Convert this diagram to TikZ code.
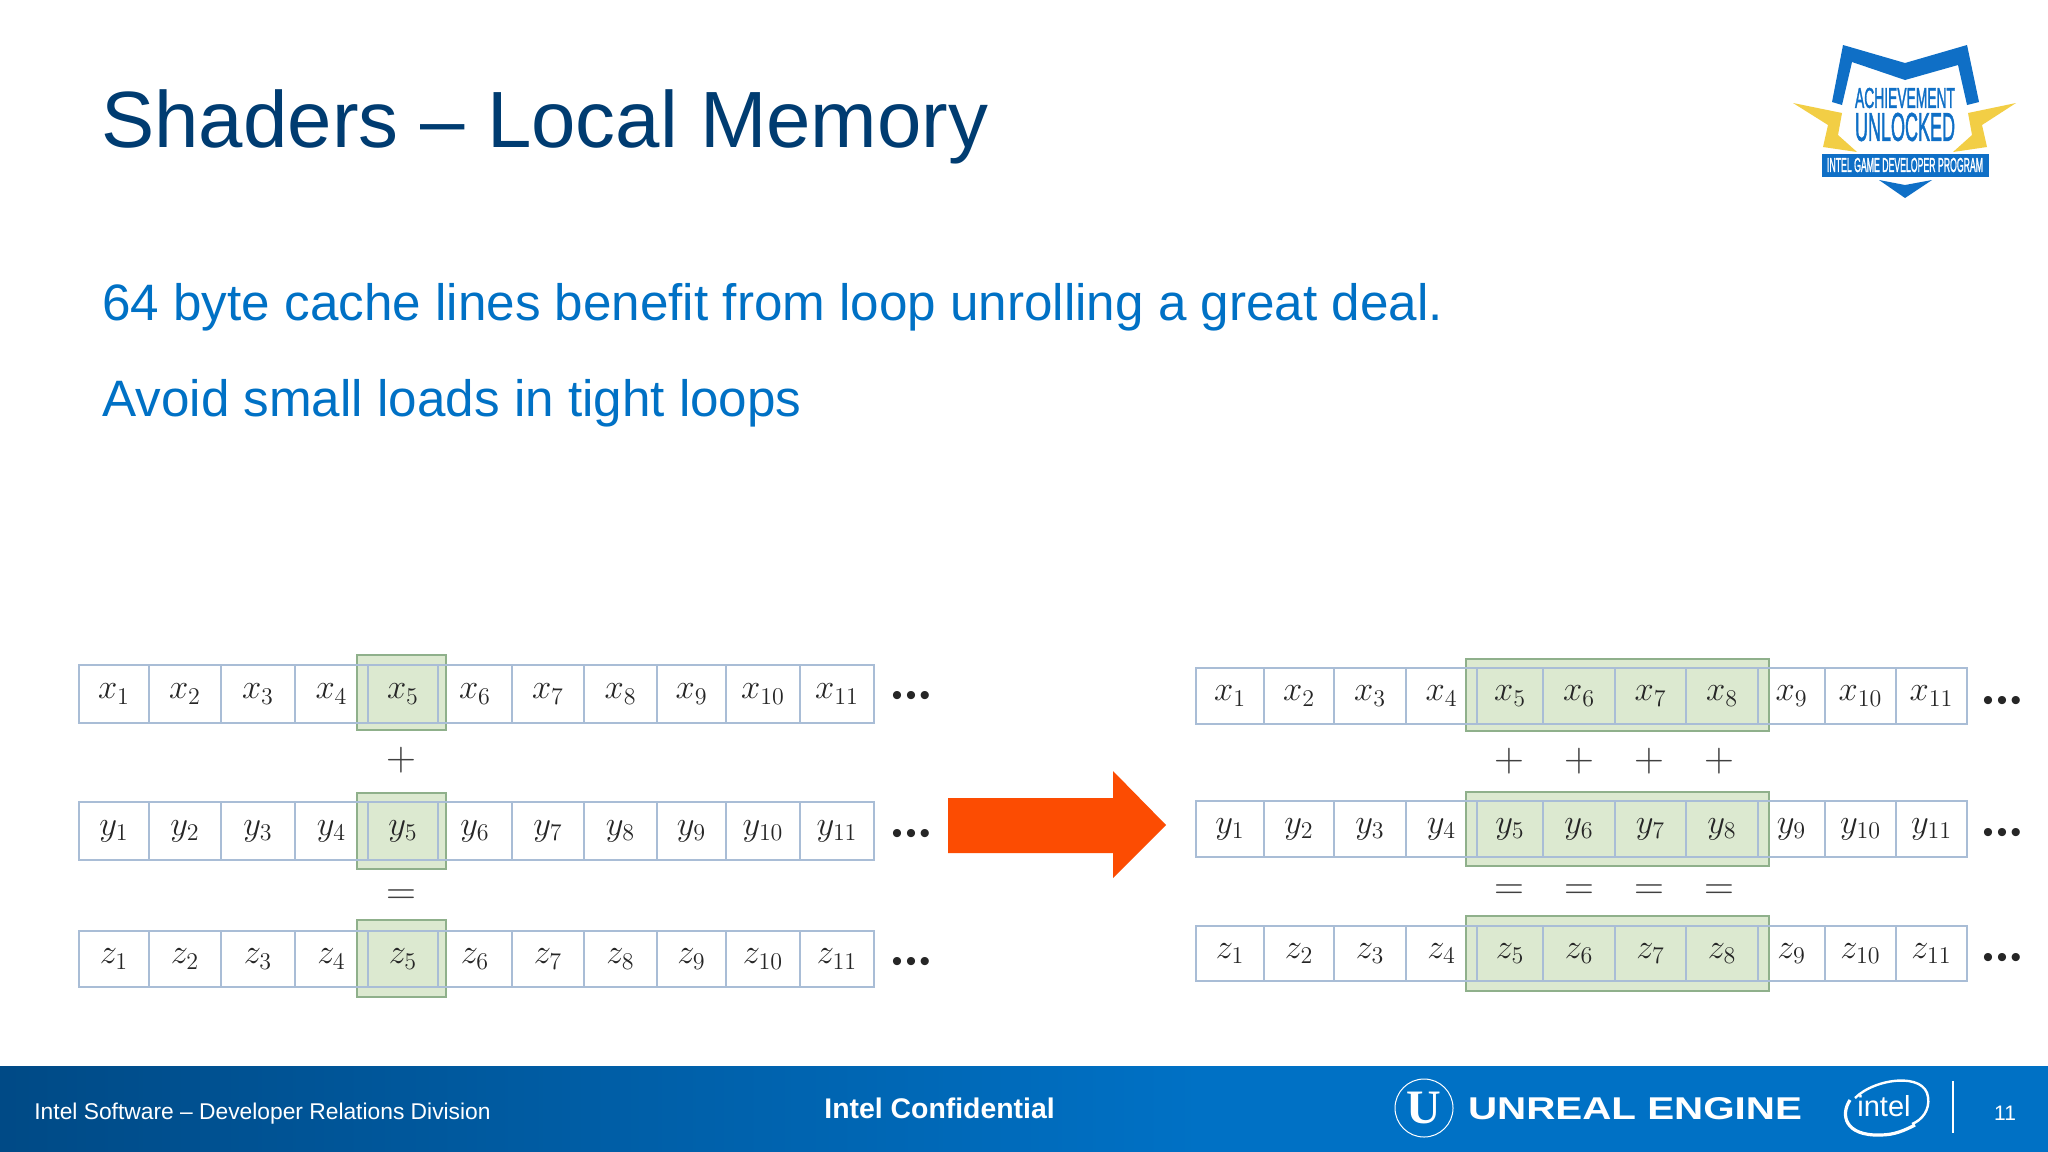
\documentclass[tikz,border=0pt]{standalone}
\usepackage{graphicx}
\usepackage{amsmath}
\usepackage{fontspec}
\setmainfont{Liberation Sans}
\newfontfamily\badgefont[FakeBold=2]{Liberation Sans}
\newfontfamily\uefont{Liberation Serif}
\usetikzlibrary{positioning}
\definecolor{inteldark}{HTML}{003C71}
\definecolor{intelblue}{HTML}{0071C5}
\definecolor{footdark}{HTML}{004A86}
\definecolor{cellline}{HTML}{A9BDD6}
\definecolor{hotorange}{HTML}{FC4C02}
\definecolor{badgeblue}{HTML}{0F6FC6}
\definecolor{badgeyellow}{HTML}{F2CE45}
\definecolor{greenline}{HTML}{8FB08B}
\definecolor{greenfill}{HTML}{DCE9D0}

\begin{document}
\begin{tikzpicture}[
  x=0.5pt, y=-0.5pt,
  cellbox/.style={
    draw=cellline, line width=1pt, inner sep=0pt, outer sep=0pt,
    text=black!85, font=\fontsize{18}{20}\selectfont
  },
  greenbox/.style={
    draw=greenline, fill=greenfill, line width=1.2pt,
    inner sep=0pt, outer sep=0pt
  },
  opmark/.style={
    inner sep=0pt, text=black!75, font=\fontsize{19.5}{20}\selectfont
  },
  dotsmark/.style={
    anchor=base, inner sep=0pt, text=black!85,
    font=\fontsize{15}{15}\selectfont
  },
  bodyline/.style={
    anchor=base west, inner sep=0pt, text=intelblue,
    font=\fontsize{25.6}{30}\selectfont
  },
  foottext/.style={
    anchor=base west, inner sep=0pt, text=white
  },
  logotext/.style={
    inner sep=0pt, text=white
  },
  badgetext/.style={
    inner sep=0pt, text=badgeblue, font=\badgefont
  }
]
\useasboundingbox (0,0) rectangle (2048,1151.8);
\fill[white] (0,0) rectangle (2048,1154);

% Title and body
\node[anchor=base west, inner sep=0pt, text=inteldark, font=\fontsize{39.9}{44}\selectfont] (title) at (101,147) {Shaders -- Local Memory};
\node[bodyline] (line1) at (102,320) {64 byte cache lines benefit from loop unrolling a great deal.};
\node[bodyline] (line2) at (102,416) {Avoid small loads in tight loops};

% Badge
\fill[badgeyellow] (1793,103) -- (1842,113) -- (1838,135) -- (1857,152) -- (1823,147) -- (1828,125) -- cycle;
\fill[badgeyellow] (2016,103) -- (1968,113) -- (1972,135) -- (1953,152) -- (1987,147) -- (1982,125) -- cycle;
\fill[badgeblue] (1843,45) -- (1905,63) -- (1967,45) -- (1979,102) -- (1967,105) -- (1958,65) -- (1905,80) -- (1852,62) -- (1842,105) -- (1832,102) -- cycle;
\fill[badgeblue] (1822,154) rectangle (1989,177);
\fill[badgeblue] (1879,180) -- (1905,185) -- (1932,180) -- (1905,198) -- cycle;
\node[badgetext] (achieve) at (1905,98) {\resizebox{50pt}{10pt}{ACHIEVEMENT}};
\node[badgetext] (unlocked) at (1905,127) {\resizebox{50pt}{14pt}{UNLOCKED}};
\node[badgetext, text=white] (program) at (1905,165) {\resizebox{78pt}{7pt}{INTEL GAME DEVELOPER PROGRAM}};

% Green highlights
\foreach \boxname/\xl/\yt/\xr/\yb in {
  La/357/655/446/730, Lb/357/793/446/869, Lc/357/920/446/997,
  Ra/1466/659/1769/731, Rb/1466/792/1769/866, Rc/1466/916/1769/991}
  \node[greenbox, minimum width={(\xr-\xl)*0.5pt}, minimum height={(\yb-\yt)*0.5pt}] (\boxname) at ({(\xl+\xr)/2},{(\yt+\yb)/2}) {};

% Left arrays
\foreach \rowname/\yt/\yb in {x/665/723, y/802/860, z/931/987}
  \foreach \cellno/\xl/\xr in {1/79/149, 2/149/221, 3/221/295, 4/295/368, 5/368/438, 6/438/512, 7/512/584, 8/584/657, 9/657/726, 10/726/800, 11/800/874}
    \node[cellbox, minimum width={(\xr-\xl)*0.5pt}, minimum height={(\yb-\yt)*0.5pt}] (L\rowname\cellno) at ({(\xl+\xr)/2},{(\yt+\yb)/2}) {\raisebox{-1.5pt}{$\rowname_{\cellno}$}};

% Right arrays
\foreach \rowname/\yt/\yb in {x/668/724, y/801/857, z/926/981}
  \foreach \cellno/\xl/\xr in {1/1196/1264, 2/1264/1334, 3/1334/1406, 4/1406/1477, 5/1477/1543, 6/1543/1615, 7/1615/1686, 8/1686/1758, 9/1758/1825, 10/1825/1896, 11/1896/1967}
    \node[cellbox, minimum width={(\xr-\xl)*0.5pt}, minimum height={(\yb-\yt)*0.5pt}] (R\rowname\cellno) at ({(\xl+\xr)/2},{(\yt+\yb)/2}) {\raisebox{-1.5pt}{$\rowname_{\cellno}$}};

% Operators
\node[opmark] (Lplus) at (401,760) {$+$};
\node[opmark] (Lequal) at (401,897) {$=$};
\foreach \opno/\xc in {1/1509, 2/1579, 3/1649, 4/1719} {
  \node[opmark] (Rplus\opno) at (\xc,761) {$+$};
  \node[opmark] (Requal\opno) at (\xc,892) {$=$};
}

% Dots
\foreach \dotname/\xc/\yc in {La/911/694, Lb/911/832, Lc/911/960, Ra/2002/699, Rb/2002/831, Rc/2002/956}
  \node[dotsmark] (dots\dotname) at (\xc,\yc+11) {•\kern1.7pt•\kern1.7pt•};

% Big arrow
\fill[hotorange] (948,798) -- (1113,798) -- (1113,771) -- (1166,825) -- (1113,878) -- (1113,853) -- (948,853) -- cycle;

% Footer
\shade[left color=footdark, right color=intelblue] (0,1066) rectangle (1200,1154);
\fill[intelblue] (1200,1066) rectangle (2048,1154);
\node[foottext, font=\fontsize{11.4}{14}\selectfont] (division) at (34,1119) {Intel Software -- Developer Relations Division};
\node[foottext, font=\fontsize{14.2}{15}\selectfont\bfseries] (confidential) at (824,1118) {Intel Confidential};
\node[draw=white, circle, line width=0.5pt, minimum size=29pt, inner sep=0pt] (uering) at (1424,1108) {};
\node[logotext, font=\fontsize{24}{24}\uefont\bfseries] (uemark) at (uering) {U};
\node[logotext, font=\bfseries] (unreal) at (1635,1109) {\resizebox{167pt}{11pt}{UNREAL ENGINE}};
\draw[white, line width=1.2pt] (1855,1098) .. controls (1875,1078) and (1925,1072) .. (1928,1097) .. controls (1930,1110) and (1922,1120) .. (1912,1124);
\draw[white, line width=1.6pt] (1850,1100) .. controls (1840,1115) and (1845,1136) .. (1880,1135) .. controls (1895,1135) and (1905,1130) .. (1915,1125);
\node[logotext, font=\fontsize{14.5}{15}\selectfont] (intelword) at (1884,1106) {intel};
\draw[white, line width=0.8pt] (1953,1081) -- (1953,1133);
\node[logotext, font=\fontsize{10.5}{12}\selectfont] (pageno) at (2005,1113) {11};

\end{tikzpicture}
\end{document}
